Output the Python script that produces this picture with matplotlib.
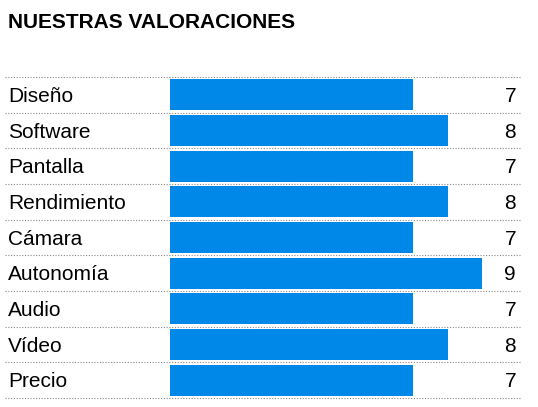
import matplotlib.pyplot as plt

categories = ["Diseño", "Software", "Pantalla", "Rendimiento", "Cámara",
              "Autonomía", "Audio", "Vídeo", "Precio"]
scores = [7, 8, 7, 8, 7, 9, 7, 8, 7]

plt.rcParams['font.family'] = ['Liberation Sans', 'DejaVu Sans']
W, H = 538, 407
fig = plt.figure(figsize=(W / 100, H / 100), dpi=100)
px = 34.7  # pixels per score unit
left, right_px = 170, 538
top, bottom = 77, 398
ax = fig.add_axes([left / W, (H - bottom) / H, (right_px - left) / W, (bottom - top) / H])
ax.set_xlim(0, (right_px - left) / px)
ax.set_ylim(len(categories), 0)
ax.axis('off')

for i, (cat, v) in enumerate(zip(categories, scores)):
    ax.barh(i + 0.5, v, height=0.86, color='#0088E8')
    ax.text((8 - left) / px, i + 0.55, cat, ha='left', va='center', fontsize=15, clip_on=False)
    ax.text((516 - left) / px, i + 0.55, str(v), ha='right', va='center', fontsize=15, clip_on=False)

for i in range(len(categories) + 1):
    ax.plot([(5 - left) / px, (520 - left) / px], [i, i], color='#888888', lw=0.8,
            ls=(0, (1, 1.5)), clip_on=False)

fig.text(8 / W, 1 - 22 / H, "NUESTRAS VALORACIONES", fontsize=15, fontweight='bold',
         ha='left', va='center')

fig.savefig('out.png', dpi=100)
